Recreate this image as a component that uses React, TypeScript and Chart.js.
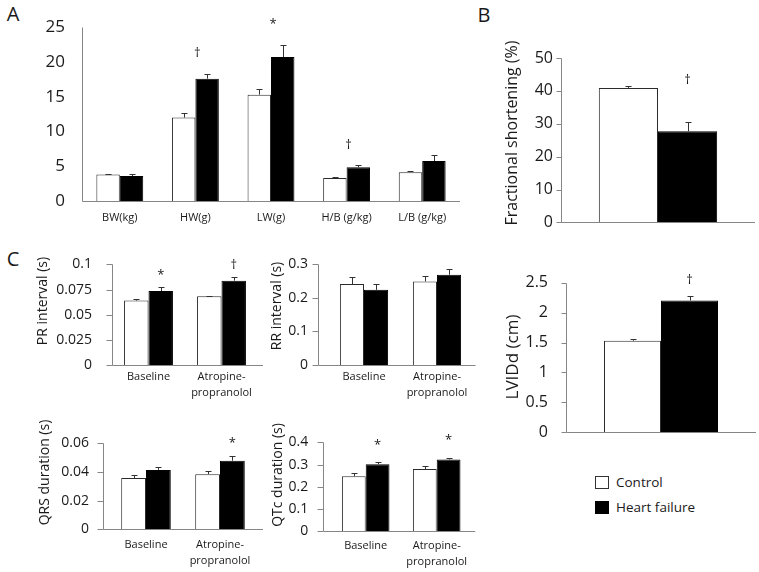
import React, { useEffect, useRef } from 'react';
import { Chart, registerables } from 'chart.js';

Chart.register(...registerables);

const FONT = '"Open Sans", "DejaVu Sans", sans-serif';
const TEXT = '#1a1a1a';
const AXIS = '#868686';

// ---- Panel A: organ weights ----
const A_CATEGORIES = ['BW(kg)', 'HW(g)', 'LW(g)', 'H/B (g/kg)', 'L/B (g/kg)'];
const A_CONTROL = [3.8, 12.0, 15.3, 3.3, 4.15];
const A_CONTROL_ERR = [0.1, 0.7, 0.8, 0.2, 0.1];
const A_HF = [3.6, 17.6, 20.7, 4.85, 5.75];
const A_HF_ERR = [0.25, 0.7, 1.8, 0.3, 0.85];
const A_MARKS = ['', '†', '*', '†', ''];
const A_TICKS = { max: 25, step: 5 };

// ---- Panel B: echo ----
const B_CATEGORIES = [''];
const FS_CONTROL = [40.9];
const FS_CONTROL_ERR = [0.6];
const FS_HF = [27.7];
const FS_HF_ERR = [2.8];
const FS_MARKS = ['†'];
const FS_TICKS = { max: 50, step: 10 };

const LV_CONTROL = [1.53];
const LV_CONTROL_ERR = [0.03];
const LV_HF = [2.2];
const LV_HF_ERR = [0.08];
const LV_MARKS = ['†'];
const LV_TICKS = { max: 2.5, step: 0.5 };

// ---- Panel C: ECG ----
const C_CATEGORIES = ['Baseline', ['Atropine-', 'propranolol']];

const PR_CONTROL = [0.064, 0.0683];
const PR_CONTROL_ERR = [0.0014, 0.0007];
const PR_HF = [0.0735, 0.0838];
const PR_HF_ERR = [0.004, 0.0035];
const PR_MARKS = ['*', '†'];
const PR_TICKS = { max: 0.1, step: 0.025 };

const RR_CONTROL = [0.24, 0.248];
const RR_CONTROL_ERR = [0.021, 0.015];
const RR_HF = [0.223, 0.268];
const RR_HF_ERR = [0.016, 0.017];
const RR_MARKS = ['', ''];
const RR_TICKS = { max: 0.3, step: 0.1 };

const QRS_CONTROL = [0.0358, 0.0385];
const QRS_CONTROL_ERR = [0.002, 0.0022];
const QRS_HF = [0.0415, 0.0479];
const QRS_HF_ERR = [0.0022, 0.0034];
const QRS_MARKS = ['', '*'];
const QRS_TICKS = { max: 0.06, step: 0.02 };

const QTC_CONTROL = [0.248, 0.28];
const QTC_CONTROL_ERR = [0.015, 0.012];
const QTC_HF = [0.302, 0.323];
const QTC_HF_ERR = [0.009, 0.009];
const QTC_MARKS = ['*', '*'];
const QTC_TICKS = { max: 0.4, step: 0.1 };

type Panel = {
  left: number; top: number; width: number; height: number;
  yW: number; xH: number; padTop: number; padRight: number;
  axisOffset: number; axisExtend: number; tickLen: number;
  ticks: { max: number; step: number }; yFont: number; yPad: number;
  labels: any[]; showX: boolean; xFont: number; xLine: number; xPad: number;
  catPct: number;
  control: number[]; controlErr: number[]; hf: number[]; hfErr: number[];
  marks: string[]; markAt: 'center' | 'hf'; markDx: number; markGap: number; markFont: number;
  title?: string; titleX?: number; titleY?: number; titleFont?: number;
};

const decorPlugin = {
  id: 'decor',
  afterDatasetsDraw(chart: any, _args: any, opts: any) {
    const ctx = chart.ctx;
    const xs = chart.scales.x;
    const ys = chart.scales.y;
    const area = chart.chartArea;
    ctx.save();
    // error bars (upper half only)
    chart.data.datasets.forEach((ds: any, di: number) => {
      const meta = chart.getDatasetMeta(di);
      meta.data.forEach((bar: any, i: number) => {
        const e = ds.errors ? ds.errors[i] : null;
        if (e == null) return;
        const v = ds.data[i];
        const yTop = Math.round(ys.getPixelForValue(v + e)) + 0.5;
        const yv = ys.getPixelForValue(v);
        const x = Math.round(bar.x) + 0.5;
        ctx.strokeStyle = '#333';
        ctx.lineWidth = 1;
        ctx.beginPath();
        ctx.moveTo(x, yv);
        ctx.lineTo(x, yTop);
        ctx.moveTo(x - 3, yTop);
        ctx.lineTo(x + 3, yTop);
        ctx.stroke();
      });
    });
    // axes
    const yAxisX = Math.round(area.left - opts.axisOffset) + 0.5;
    const yBottom = Math.round(area.bottom) + 0.5;
    ctx.strokeStyle = AXIS;
    ctx.lineWidth = 1;
    ctx.beginPath();
    ctx.moveTo(yAxisX, Math.round(area.top) + 0.5);
    ctx.lineTo(yAxisX, yBottom);
    ctx.moveTo(yAxisX, yBottom);
    ctx.lineTo(area.right + opts.axisExtend, yBottom);
    if (opts.tickLen > 0) {
      ys.ticks.forEach((t: any) => {
        const py = Math.round(ys.getPixelForValue(t.value)) + 0.5;
        ctx.moveTo(yAxisX - opts.tickLen, py);
        ctx.lineTo(yAxisX, py);
      });
    }
    ctx.stroke();
    // significance marks
    const hfMeta = chart.getDatasetMeta(1);
    const hfDs = chart.data.datasets[1];
    ctx.fillStyle = TEXT;
    ctx.font = `${opts.markFont}px ${FONT}`;
    ctx.textAlign = 'center';
    ctx.textBaseline = 'middle';
    (opts.marks || []).forEach((m: string, i: number) => {
      if (!m) return;
      const bar = hfMeta.data[i];
      const yTop = ys.getPixelForValue(hfDs.data[i] + hfDs.errors[i]);
      const x = opts.markAt === 'center' ? xs.getPixelForValue(i) + opts.markDx : bar.x + opts.markDx;
      ctx.fillText(m, x, yTop - opts.markGap);
    });
    // y title
    if (opts.title) {
      ctx.save();
      ctx.translate(opts.titleX, opts.titleY);
      ctx.rotate(-Math.PI / 2);
      ctx.font = `${opts.titleFont}px ${FONT}`;
      ctx.textAlign = 'center';
      ctx.textBaseline = 'middle';
      ctx.fillText(opts.title, 0, 0);
      ctx.restore();
    }
    ctx.restore();
  },
};

function BarPanel({ p }: { p: Panel }) {
  const ref = useRef<HTMLCanvasElement>(null);
  useEffect(() => {
    const chart = new Chart(ref.current as HTMLCanvasElement, {
      type: 'bar',
      data: {
        labels: p.labels,
        datasets: [
          {
            label: 'Control', data: p.control, errors: p.controlErr,
            backgroundColor: '#ffffff', borderColor: '#2b2b2b', borderWidth: 1,
            categoryPercentage: p.catPct, barPercentage: 1,
          } as any,
          {
            label: 'Heart failure', data: p.hf, errors: p.hfErr,
            backgroundColor: '#000000', borderColor: '#000000', borderWidth: 1,
            categoryPercentage: p.catPct, barPercentage: 1,
          } as any,
        ],
      },
      options: {
        responsive: false,
        animation: false,
        devicePixelRatio: 1,
        layout: { padding: { top: p.padTop, right: p.padRight, left: 0, bottom: 0 } },
        plugins: {
          legend: { display: false },
          tooltip: { enabled: false },
          decor: {
            axisOffset: p.axisOffset, axisExtend: p.axisExtend, tickLen: p.tickLen,
            marks: p.marks, markAt: p.markAt, markDx: p.markDx, markGap: p.markGap, markFont: p.markFont,
            title: p.title, titleX: p.titleX, titleY: p.titleY, titleFont: p.titleFont,
          },
        } as any,
        scales: {
          x: {
            type: 'category',
            offset: true,
            grid: { display: false, drawTicks: false },
            border: { display: false },
            ticks: {
              display: p.showX, autoSkip: false, maxRotation: 0, minRotation: 0,
              color: TEXT, padding: p.xPad,
              font: { family: FONT, size: p.xFont, lineHeight: p.xLine },
            },
            afterFit: (s: any) => { s.height = p.xH; },
          },
          y: {
            min: 0, max: p.ticks.max,
            grid: { display: false, drawTicks: false },
            border: { display: false },
            ticks: {
              stepSize: p.ticks.step, color: TEXT, padding: p.yPad,
              font: { family: FONT, size: p.yFont },
              callback: (v: any) => String(+Number(v).toFixed(4)),
            },
            afterFit: (s: any) => { s.width = p.yW; },
          },
        } as any,
      },
      plugins: [decorPlugin as any],
    });
    return () => chart.destroy();
  }, []);
  return (
    <canvas
      ref={ref}
      width={p.width}
      height={p.height}
      style={{ position: 'absolute', left: p.left, top: p.top, width: p.width, height: p.height }}
    />
  );
}

const base = {
  axisOffset: 0, axisExtend: 0, tickLen: 6, yFont: 14, xFont: 11, xLine: 1.45, showX: true,
  markAt: 'hf' as const, markDx: 0, markFont: 13, titleFont: 14,
};

const panels: Panel[] = [
  {
    ...base, left: 25, top: 0, width: 445, height: 232, yW: 57, xH: 31, padTop: 10, padRight: 10,
    tickLen: 0, ticks: A_TICKS, yFont: 17, yPad: 17, labels: A_CATEGORIES, xLine: 1.2, xPad: 10,
    catPct: 0.62, control: A_CONTROL, controlErr: A_CONTROL_ERR, hf: A_HF, hfErr: A_HF_ERR,
    marks: A_MARKS, markAt: 'center', markDx: 2, markGap: 20,
  },
  {
    ...base, left: 500, top: 40, width: 259, height: 200, yW: 61, xH: 12, padTop: 18, padRight: 4,
    tickLen: 5, ticks: FS_TICKS, yFont: 16, yPad: 8, labels: B_CATEGORIES, showX: false, xPad: 0,
    catPct: 0.61, control: FS_CONTROL, controlErr: FS_CONTROL_ERR, hf: FS_HF, hfErr: FS_HF_ERR,
    marks: FS_MARKS, markGap: 42,
    title: 'Fractional shortening (%)', titleX: 12, titleY: 93, titleFont: 16,
  },
  {
    ...base, left: 500, top: 255, width: 259, height: 205, yW: 66, xH: 9, padTop: 15, padRight: 3,
    tickLen: 5, ticks: LV_TICKS, yFont: 16, yPad: 18, labels: B_CATEGORIES, showX: false, xPad: 0,
    catPct: 0.6, control: LV_CONTROL, controlErr: LV_CONTROL_ERR, hf: LV_HF, hfErr: LV_HF_ERR,
    marks: LV_MARKS, markGap: 15,
    title: 'LVIDd (cm)', titleX: 13, titleY: 102, titleFont: 17,
  },
  {
    ...base, left: 30, top: 236, width: 235, height: 170, yW: 82, xH: 41, padTop: 13.3, padRight: 7,
    axisExtend: 5, ticks: PR_TICKS, yPad: 20, labels: C_CATEGORIES, xPad: 4,
    catPct: 0.67, control: PR_CONTROL, controlErr: PR_CONTROL_ERR, hf: PR_HF, hfErr: PR_HF_ERR,
    marks: PR_MARKS, markGap: 12,
    title: 'PR interval (s)', titleX: 13, titleY: 65,
  },
  {
    ...base, left: 240, top: 236, width: 240, height: 170, yW: 87.5, xH: 41, padTop: 13.3, padRight: 6.5,
    axisOffset: 9.5, axisExtend: 2, ticks: RR_TICKS, yPad: 19.5, labels: C_CATEGORIES, xPad: 4,
    catPct: 0.66, control: RR_CONTROL, controlErr: RR_CONTROL_ERR, hf: RR_HF, hfErr: RR_HF_ERR,
    marks: RR_MARKS, markGap: 12,
    title: 'RR interval (s)', titleX: 36.7, titleY: 70,
  },
  {
    ...base, left: 25, top: 415, width: 240, height: 157, yW: 84, xH: 42.7, padTop: 13.7, padRight: 8,
    axisOffset: 6, axisExtend: 6, ticks: QRS_TICKS, yPad: 20, labels: C_CATEGORIES, xPad: 7.7,
    catPct: 0.67, control: QRS_CONTROL, controlErr: QRS_CONTROL_ERR, hf: QRS_HF, hfErr: QRS_HF_ERR,
    marks: QRS_MARKS, markGap: 13,
    title: 'QRS duration (s)', titleX: 20, titleY: 57.5,
  },
  {
    ...base, left: 250, top: 412, width: 230, height: 160, yW: 80.2, xH: 40.7, padTop: 14, padRight: 7.8,
    axisOffset: 6.9, axisExtend: 3, ticks: QTC_TICKS, yPad: 22, labels: C_CATEGORIES, xPad: 6.7,
    catPct: 0.67, control: QTC_CONTROL, controlErr: QTC_CONTROL_ERR, hf: QTC_HF, hfErr: QTC_HF_ERR,
    marks: QTC_MARKS, markGap: 17,
    title: 'QTc duration (s)', titleX: 28, titleY: 63,
  },
];

const letterStyle: React.CSSProperties = {
  position: 'absolute', fontFamily: FONT, fontSize: 20, color: TEXT, lineHeight: '20px',
  transform: 'translate(-50%, -50%)',
};

export default function App() {
  return (
    <div style={{ position: 'absolute', left: 0, top: 0, width: 759, height: 572, background: '#fff', overflow: 'hidden' }}>
      {panels.map((p, i) => <BarPanel key={i} p={p} />)}
      <div style={{ ...letterStyle, left: 13, top: 14 }}>A</div>
      <div style={{ ...letterStyle, left: 484, top: 15 }}>B</div>
      <div style={{ ...letterStyle, left: 13, top: 259 }}>C</div>
      <div style={{ position: 'absolute', left: 595, top: 476, width: 12, height: 11, border: '1px solid #333', background: '#fff' }} />
      <div style={{ position: 'absolute', left: 616, top: 473, fontFamily: FONT, fontSize: 13.5, color: TEXT, lineHeight: '18px' }}>Control</div>
      <div style={{ position: 'absolute', left: 595, top: 501, width: 12, height: 11, border: '1px solid #000', background: '#000' }} />
      <div style={{ position: 'absolute', left: 616, top: 498, fontFamily: FONT, fontSize: 13.5, color: TEXT, lineHeight: '18px' }}>Heart failure</div>
    </div>
  );
}
